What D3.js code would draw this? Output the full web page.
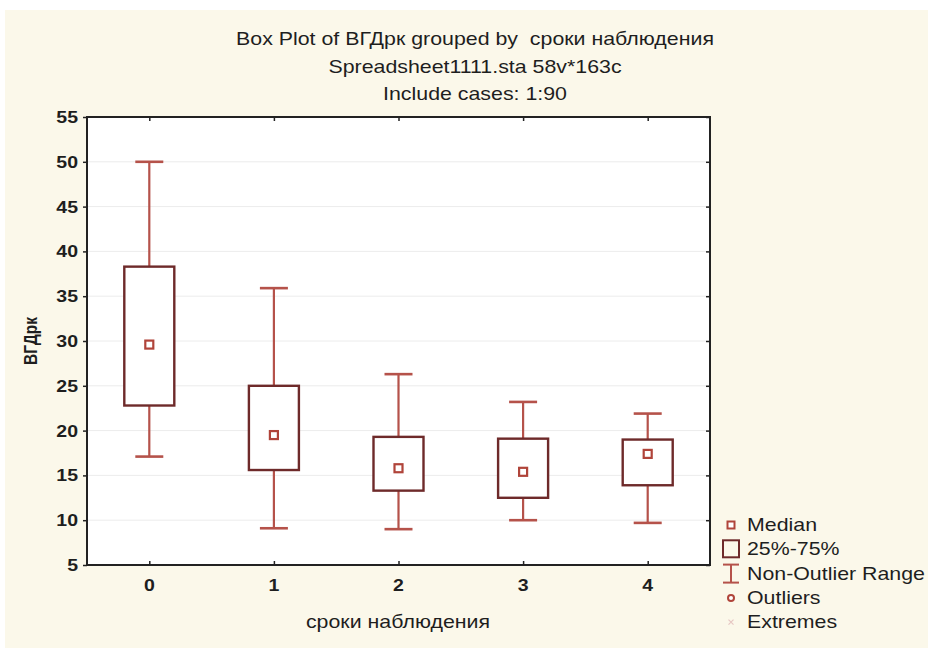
<!DOCTYPE html>
<html>
<head>
<meta charset="utf-8">
<script src="https://cdn.jsdelivr.net/npm/d3@7"></script>
<style>
  html, body { margin: 0; padding: 0; background: #ffffff; }
  svg { display: block; }
  text { font-family: "Liberation Sans", Arial, sans-serif; fill: #1e1e1e; white-space: pre; }
</style>
</head>
<body>
<svg id="chart" width="928" height="651"></svg>
<script>
// Observation periods (сроки наблюдения) and ВГДрк summary statistics per group
const categories = ["0", "1", "2", "3", "4"];
const whiskerLow  = [17.1, 9.1, 9.0, 10.0, 9.7];
const q1          = [22.8, 15.6, 13.3, 12.5, 13.9];
const medians     = [29.6, 19.5, 15.8, 15.4, 17.4];
const q3          = [38.3, 25.0, 19.3, 19.1, 19.0];
const whiskerHigh = [50.0, 35.9, 26.3, 23.2, 21.9];
const yTicks = [5, 10, 15, 20, 25, 30, 35, 40, 45, 50, 55];
const titleLines = [
  "Box Plot of ВГДрк grouped by\u00a0 сроки наблюдения",
  "Spreadsheet1111.sta 58v*163c",
  "Include cases: 1:90"
];
const legendItems = ["Median", "25%-75%", "Non-Outlier Range", "Outliers", "Extremes"];

const rows = categories.map((c, i) => ({
  cat: c, lo: whiskerLow[i], q1: q1[i], med: medians[i], q3: q3[i], hi: whiskerHigh[i]
}));

const svg = d3.select("#chart");
const W = 928, H = 651;
const plot = { left: 87, right: 710, top: 117, bottom: 565 };
const SX = 1.22;      // horizontal widening of the lettering
const FS = 17.5;

const boxColor = "#6e2a2a";
const whiskerColor = "#b5524a";
const medianColor = "#b0443a";

// draws a horizontally widened label
function label(parent, x, y, str, opts = {}) {
  const t = parent.append("text")
    .attr("transform", `translate(${x},${y}) scale(${SX},1)`)
    .attr("text-anchor", opts.anchor || "start")
    .attr("font-size", opts.size || FS)
    .text(str);
  if (opts.bold) t.attr("font-weight", "bold");
  if (opts.fill) t.attr("fill", opts.fill);
  return t;
}

// page background
svg.append("rect").attr("x", 5).attr("y", 10).attr("width", W - 5).attr("height", H - 13)
  .attr("fill", "#fbf8ea");

const x = d3.scalePoint().domain(categories).range([plot.left, plot.right]).padding(0.5);
const y = d3.scaleLinear().domain([5, 55]).range([plot.bottom, plot.top]);

// plot area
svg.append("rect")
  .attr("x", plot.left).attr("y", plot.top)
  .attr("width", plot.right - plot.left).attr("height", plot.bottom - plot.top)
  .attr("fill", "#ffffff");

// horizontal grid
svg.append("g")
  .selectAll("line")
  .data(yTicks.filter(t => t > 5 && t < 55))
  .join("line")
  .attr("x1", plot.left).attr("x2", plot.right)
  .attr("y1", d => y(d)).attr("y2", d => y(d))
  .attr("stroke", "#ececec").attr("stroke-width", 1);

// titles
const tg = svg.append("g");
titleLines.forEach((s, i) => label(tg, 475, 45 + i * 27.5, s, { anchor: "middle" }));

// y axis
const yAxis = svg.append("g")
  .attr("transform", `translate(${plot.left},0)`)
  .call(d3.axisLeft(y).tickValues(yTicks).tickSize(4).tickFormat(""));
yAxis.select(".domain").remove();
yAxis.selectAll("line").attr("stroke", "#222").attr("stroke-width", 1.5);
const yl = svg.append("g");
yTicks.forEach(v => label(yl, plot.left - 9, y(v) + 6, String(v),
  { anchor: "end", bold: true, size: 16, fill: "#2a2a2a" }));

// right-side inner ticks
const yRight = svg.append("g")
  .attr("transform", `translate(${plot.right},0)`)
  .call(d3.axisLeft(y).tickValues(yTicks).tickSize(4).tickFormat(""));
yRight.select(".domain").remove();
yRight.selectAll("line").attr("stroke", "#222").attr("stroke-width", 1.5);

// x axis
const xAxis = svg.append("g")
  .attr("transform", `translate(0,${plot.bottom})`)
  .call(d3.axisTop(x).tickSize(4).tickFormat(""));
xAxis.select(".domain").remove();
xAxis.selectAll("line").attr("stroke", "#222").attr("stroke-width", 1.5);
const xl = svg.append("g");
categories.forEach(c => label(xl, x(c), 591, c,
  { anchor: "middle", bold: true, size: 16, fill: "#2a2a2a" }));

const xTop = svg.append("g")
  .attr("transform", `translate(0,${plot.top})`)
  .call(d3.axisBottom(x).tickSize(4).tickFormat(""));
xTop.select(".domain").remove();
xTop.selectAll("line").attr("stroke", "#222").attr("stroke-width", 1.5);

// frame
svg.append("rect")
  .attr("x", plot.left).attr("y", plot.top)
  .attr("width", plot.right - plot.left).attr("height", plot.bottom - plot.top)
  .attr("fill", "none").attr("stroke", "#222").attr("stroke-width", 2);

// axis titles
label(svg, 398, 628, "сроки наблюдения", { anchor: "middle" });
svg.append("text")
  .attr("transform", "translate(37,341) rotate(-90) scale(1,1.22)")
  .attr("text-anchor", "middle").attr("font-size", 15.5).attr("font-weight", "bold")
  .attr("fill", "#2a2a2a")
  .text("ВГДрк");

// boxes
const boxW = 50, capW = 28, medS = 8;
const g = svg.append("g").selectAll("g").data(rows).join("g")
  .attr("transform", d => `translate(${x(d.cat)},0)`);

g.append("line").attr("x1", 0).attr("x2", 0)
  .attr("y1", d => y(d.hi)).attr("y2", d => y(d.q3))
  .attr("stroke", whiskerColor).attr("stroke-width", 2.2);
g.append("line").attr("x1", 0).attr("x2", 0)
  .attr("y1", d => y(d.q1)).attr("y2", d => y(d.lo))
  .attr("stroke", whiskerColor).attr("stroke-width", 2.2);
g.append("line").attr("x1", -capW / 2).attr("x2", capW / 2)
  .attr("y1", d => y(d.hi)).attr("y2", d => y(d.hi))
  .attr("stroke", whiskerColor).attr("stroke-width", 2.6);
g.append("line").attr("x1", -capW / 2).attr("x2", capW / 2)
  .attr("y1", d => y(d.lo)).attr("y2", d => y(d.lo))
  .attr("stroke", whiskerColor).attr("stroke-width", 2.6);

g.append("rect")
  .attr("x", -boxW / 2).attr("width", boxW)
  .attr("y", d => y(d.q3)).attr("height", d => y(d.q1) - y(d.q3))
  .attr("fill", "#ffffff").attr("stroke", boxColor).attr("stroke-width", 2.4);

g.append("rect")
  .attr("x", -medS / 2).attr("width", medS)
  .attr("y", d => y(d.med) - medS / 2).attr("height", medS)
  .attr("fill", "#ffffff").attr("stroke", medianColor).attr("stroke-width", 2.2);

// legend
const lg = svg.append("g");
const lx = 731, ly0 = 525, lstep = 24.3;
legendItems.forEach((t, i) => label(lg, 747, ly0 + i * lstep + 6, t));
// median marker
lg.append("rect").attr("x", lx - 3.5).attr("y", ly0 - 3.5).attr("width", 7).attr("height", 7)
  .attr("fill", "#fff").attr("stroke", medianColor).attr("stroke-width", 2);
// box swatch
lg.append("rect").attr("x", lx - 8).attr("y", ly0 + lstep - 9).attr("width", 16).attr("height", 17)
  .attr("fill", "none").attr("stroke", boxColor).attr("stroke-width", 2);
// whisker swatch
const wy = ly0 + 2 * lstep;
lg.append("line").attr("x1", lx - 8).attr("x2", lx + 8).attr("y1", wy - 9).attr("y2", wy - 9)
  .attr("stroke", whiskerColor).attr("stroke-width", 2);
lg.append("line").attr("x1", lx - 8).attr("x2", lx + 8).attr("y1", wy + 9).attr("y2", wy + 9)
  .attr("stroke", whiskerColor).attr("stroke-width", 2);
lg.append("line").attr("x1", lx).attr("x2", lx).attr("y1", wy - 9).attr("y2", wy + 9)
  .attr("stroke", whiskerColor).attr("stroke-width", 2);
// outlier circle
lg.append("circle").attr("cx", lx).attr("cy", ly0 + 3 * lstep).attr("r", 3)
  .attr("fill", "#fff").attr("stroke", medianColor).attr("stroke-width", 2);
// extremes marker
const ey = ly0 + 4 * lstep;
lg.append("path").attr("d", `M${lx - 2.5},${ey - 2.5}L${lx + 2.5},${ey + 2.5}M${lx - 2.5},${ey + 2.5}L${lx + 2.5},${ey - 2.5}`)
  .attr("stroke", "#e6c7c3").attr("stroke-width", 1.2);
</script>
</body>
</html>
